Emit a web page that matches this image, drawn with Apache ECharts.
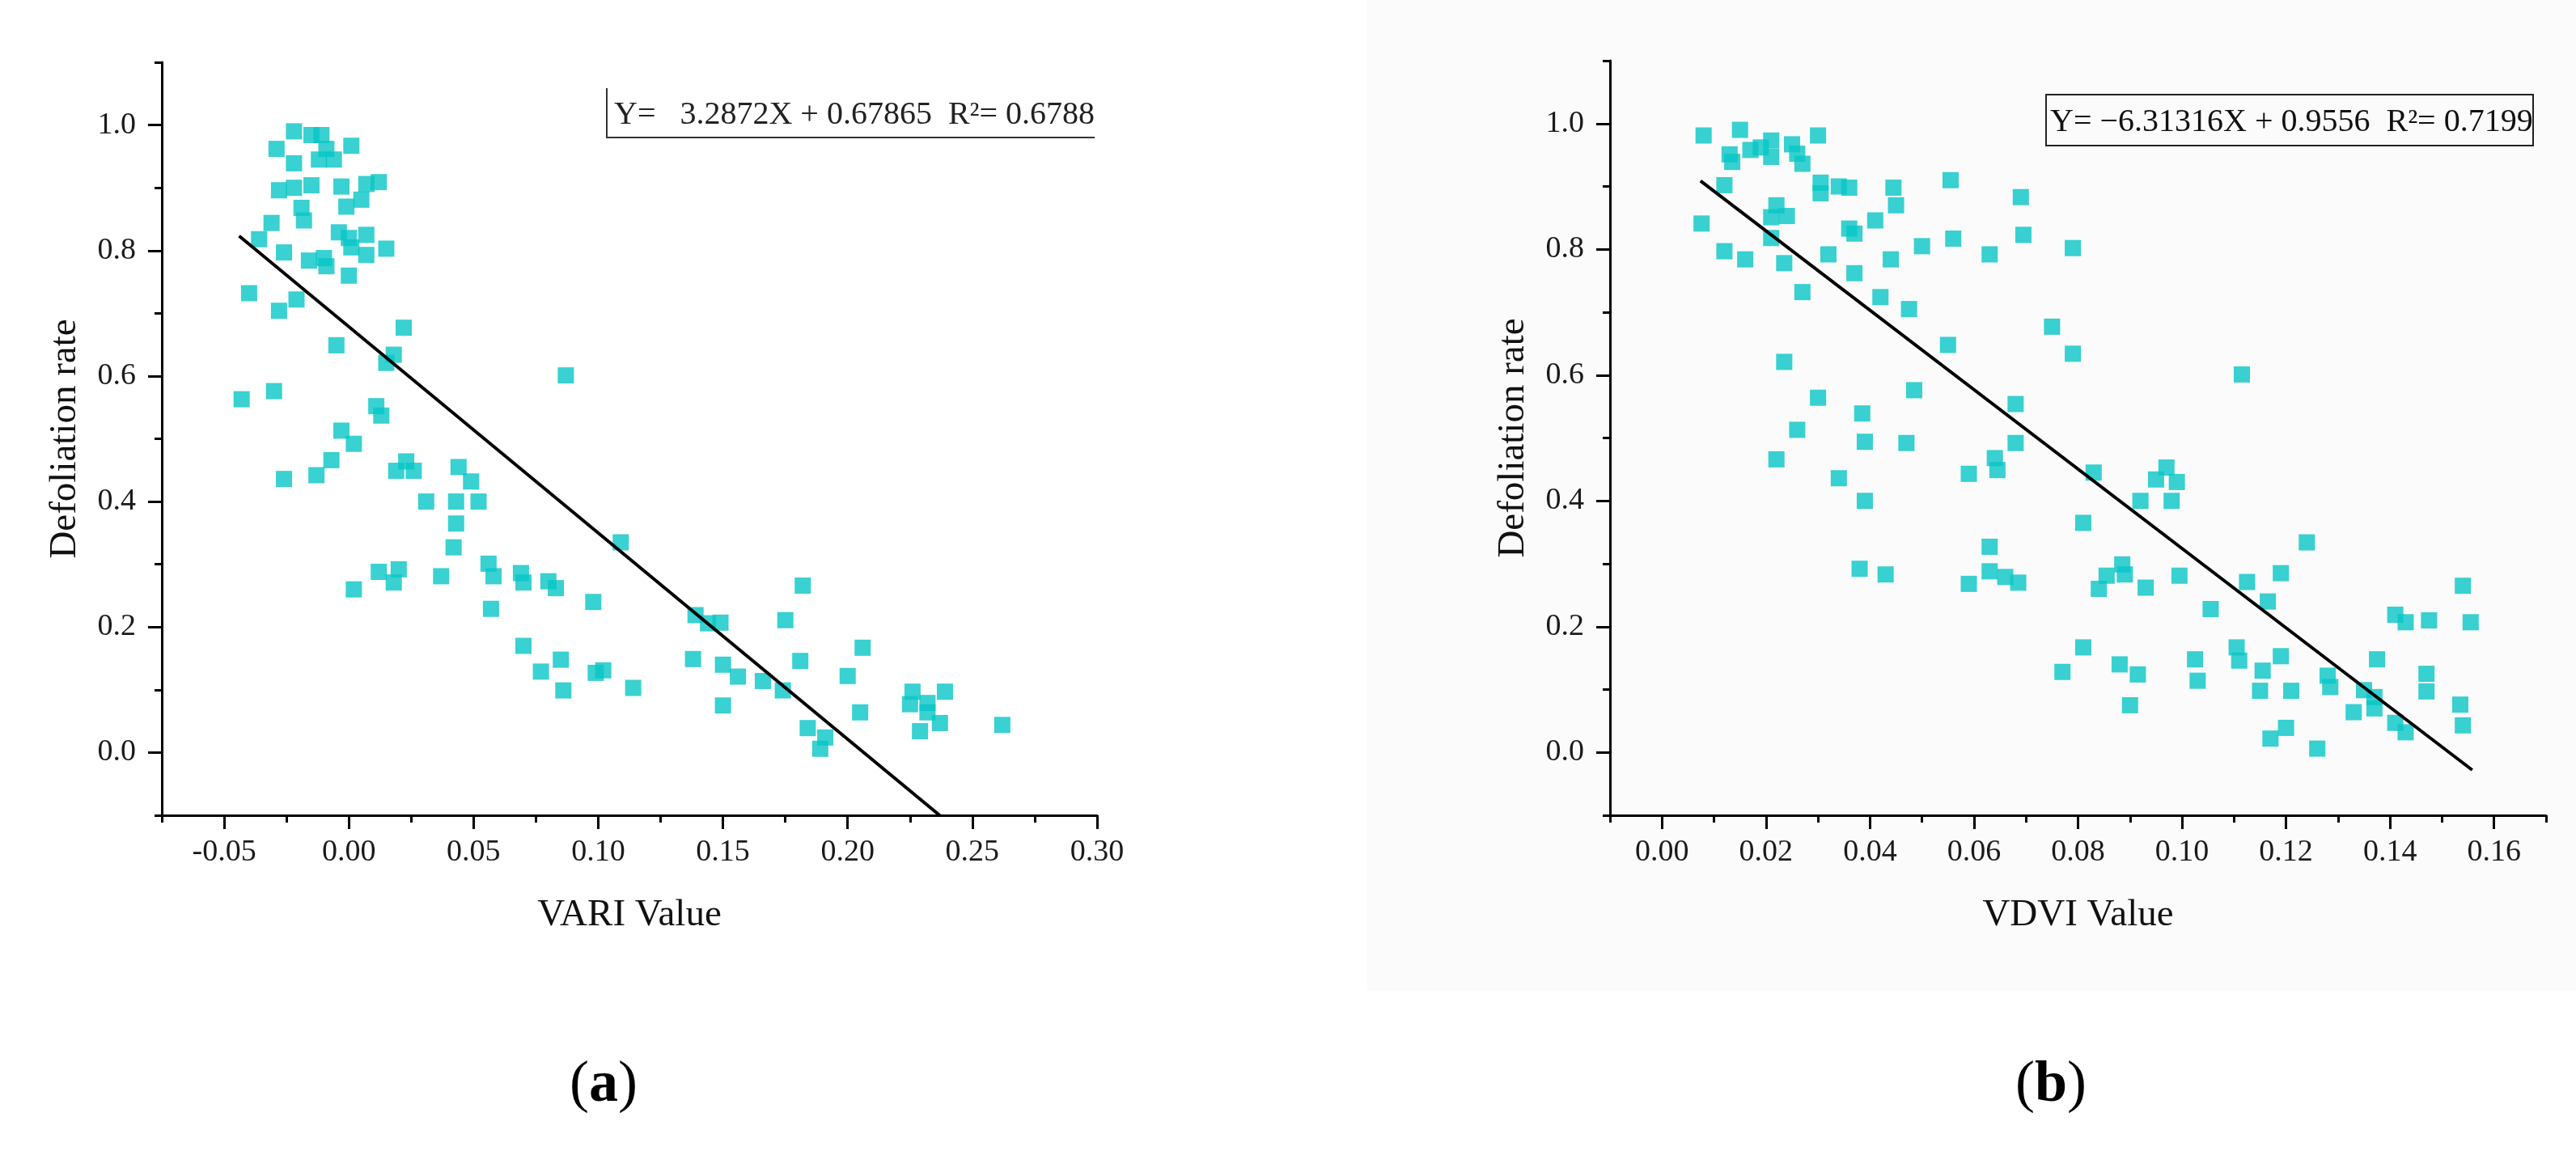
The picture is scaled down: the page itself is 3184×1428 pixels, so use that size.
<!DOCTYPE html>
<html>
<head>
<meta charset="utf-8">
<title>Defoliation rate vs VARI / VDVI</title>
<script src="https://cdn.jsdelivr.net/npm/echarts@6/dist/echarts.min.js"></script>
<style>
  html, body { margin: 0; padding: 0; background: #fff; }
  #wrap { position: relative; width: 3184px; height: 1428px; }
  #paper { position: absolute; left: 1690px; top: 0; width: 1494px; height: 1225px; background: #fbfbfb; }
  #chart { position: absolute; left: 0; top: 0; width: 3184px; height: 1428px; }
</style>
</head>
<body>
<div id="wrap">
  <div id="paper"></div>
  <div id="chart"></div>
</div>
<script>
// (a) VARI value vs defoliation rate
const variX = [
  -0.029, -0.022, -0.015, -0.011, -0.012, -0.006, 0.001, -0.022, -0.009,
  -0.028, -0.022, -0.015, -0.003, 0.007, 0.012, 0.005, -0.001, -0.019, -0.018,
  -0.031, -0.036, -0.004, 0.000, 0.007, 0.001, 0.007, 0.015, -0.026, -0.016, -0.010, -0.009, 0.000,
  -0.040, -0.028, -0.021, 0.022, -0.005, 0.018, 0.015, 0.087, -0.043, -0.030, 0.011, 0.013, -0.003, 0.002,
  -0.007, -0.013, -0.026, 0.023, 0.026, 0.019, 0.044, 0.049, 0.031, 0.043, 0.052, 0.043, 0.042, 0.109,
  0.002, 0.012, 0.020, 0.018, 0.037, 0.056, 0.058, 0.069, 0.070, 0.080, 0.083, 0.057, 0.098,
  0.070, 0.085, 0.077, 0.086, 0.099, 0.102, 0.114,
  0.182, 0.139, 0.144, 0.149, 0.175, 0.206, 0.138, 0.150, 0.156, 0.166, 0.174, 0.181, 0.200,
  0.150, 0.205, 0.184, 0.191, 0.189, 0.226, 0.239, 0.225, 0.232, 0.232, 0.237, 0.229, 0.262
]
const variY = [
  0.962, 0.990, 0.984, 0.984, 0.945, 0.945, 0.967, 0.939, 0.962,
  0.896, 0.900, 0.904, 0.902, 0.906, 0.909, 0.881, 0.870, 0.868, 0.848,
  0.844, 0.818, 0.829, 0.820, 0.825, 0.805, 0.793, 0.803, 0.797, 0.784, 0.788, 0.775, 0.760,
  0.732, 0.704, 0.722, 0.677, 0.649, 0.634, 0.621, 0.601, 0.563, 0.576, 0.552, 0.537, 0.513, 0.492,
  0.466, 0.442, 0.436, 0.464, 0.449, 0.449, 0.455, 0.432, 0.400, 0.400, 0.400, 0.365, 0.327, 0.335,
  0.260, 0.288, 0.292, 0.271, 0.281, 0.301, 0.281, 0.286, 0.271, 0.273, 0.262, 0.229, 0.240,
  0.170, 0.148, 0.129, 0.099, 0.127, 0.131, 0.103,
  0.266, 0.219, 0.206, 0.207, 0.211, 0.167, 0.149, 0.140, 0.121, 0.114, 0.099, 0.146, 0.122,
  0.075, 0.064, 0.039, 0.024, 0.006, 0.097, 0.097, 0.077, 0.079, 0.064, 0.047, 0.034, 0.044
]

// (b) VDVI value vs defoliation rate
const vdviX = [
  0.008, 0.015, 0.013, 0.0135, 0.017, 0.019, 0.021, 0.021, 0.025, 0.026, 0.027, 0.030,
  0.012, 0.0305, 0.0305, 0.034, 0.036, 0.0445, 0.045, 0.022, 0.021, 0.024, 0.0076, 0.041,
  0.036, 0.037, 0.021, 0.012, 0.016, 0.0235, 0.032, 0.044, 0.050, 0.037, 0.027, 0.042, 0.0475,
  0.0235, 0.030, 0.0385, 0.0485, 0.026, 0.039, 0.047,
  0.022, 0.034, 0.039, 0.038, 0.043,
  0.0555, 0.069, 0.056, 0.063, 0.0695, 0.079, 0.075, 0.055, 0.079, 0.1115, 0.068, 0.068,
  0.064, 0.0645, 0.059, 0.083, 0.097, 0.095, 0.099, 0.092, 0.098, 0.081, 0.124, 0.063,
  0.063, 0.066, 0.0685, 0.059, 0.0885, 0.0855, 0.084, 0.089,
  0.093, 0.0995, 0.1125, 0.119, 0.1165, 0.1055, 0.154, 0.141, 0.143, 0.1475, 0.1555,
  0.081, 0.077, 0.088, 0.0915, 0.090, 0.1025, 0.103, 0.1105, 0.111, 0.119, 0.1155, 0.115, 0.121,
  0.128, 0.1285, 0.1375, 0.135, 0.137, 0.137, 0.133, 0.147, 0.147, 0.1535, 0.154, 0.141, 0.143,
  0.120, 0.117, 0.126
]
const vdviY = [
  0.981, 0.990, 0.951, 0.939, 0.958, 0.962, 0.973, 0.947, 0.967, 0.952, 0.936, 0.981,
  0.902, 0.906, 0.889, 0.900, 0.898, 0.898, 0.870, 0.870, 0.851, 0.853, 0.841, 0.846,
  0.833, 0.825, 0.818, 0.797, 0.784, 0.778, 0.792, 0.784, 0.805, 0.762, 0.732, 0.724, 0.705,
  0.621, 0.564, 0.539, 0.576, 0.513, 0.494, 0.492,
  0.466, 0.436, 0.400, 0.292, 0.283,
  0.910, 0.883, 0.817, 0.792, 0.823, 0.802, 0.677, 0.648, 0.634, 0.601, 0.554, 0.492,
  0.468, 0.449, 0.443, 0.445, 0.453, 0.434, 0.430, 0.400, 0.400, 0.365, 0.334, 0.327,
  0.288, 0.279, 0.270, 0.268, 0.299, 0.281, 0.260, 0.283,
  0.262, 0.281, 0.271, 0.285, 0.240, 0.228, 0.265, 0.219, 0.207, 0.210, 0.207,
  0.167, 0.128, 0.140, 0.124, 0.075, 0.148, 0.114, 0.167, 0.146, 0.153, 0.130, 0.098, 0.098,
  0.122, 0.104, 0.148, 0.099, 0.088, 0.070, 0.064, 0.125, 0.097, 0.076, 0.043, 0.047, 0.032,
  0.039, 0.022, 0.006
]

// linear fits as printed in the boxes: [VARI, VDVI]
const fitSlope = [-3.2872, -6.31316]
const fitIntercept = [0.67865, 0.9556]
const fitFrom = [-0.044, 0.0074]
const fitTo = [0.262, 0.1558]
const fitText = [
  'Y=   3.2872X + 0.67865  R\u00b2= 0.6788',
  'Y= \u22126.31316X + 0.9556  R\u00b2= 0.7199'
]

const yMajor = [0, 0.2, 0.4, 0.6, 0.8, 1.0]
const variMajor = [-0.05, 0, 0.05, 0.1, 0.15, 0.2, 0.25, 0.3]
const vdviMajor = [0, 0.02, 0.04, 0.06, 0.08, 0.1, 0.12, 0.14, 0.16]

const FONT = "'Liberation Serif', 'Times New Roman', serif"
const MARK = '#08c6c6'

const zip = (xs, ys) => xs.map((x, i) => [x, ys[i]])
const fitLine = i => [fitFrom[i], fitTo[i]].map(x => [x, fitSlope[i] * x + fitIntercept[i]])

const lineStyle = { color: '#000', width: 3 }

function majorX(grid, min, max, ticks, digits, name) {
  return {
    type: 'value', gridIndex: grid, position: 'bottom', offset: 0,
    min, max,
    name, nameLocation: 'middle', nameGap: 100,
    nameTextStyle: { fontFamily: FONT, fontSize: 47, color: '#111' },
    axisLine: { show: true, onZero: false, lineStyle },
    axisTick: { show: true, inside: false, length: 17, customValues: ticks, lineStyle },
    axisLabel: {
      customValues: ticks, margin: 27, fontFamily: FONT, fontSize: 38, color: '#1a1a1a',
      formatter: v => Number(v).toFixed(digits)
    },
    splitLine: { show: false }
  }
}

function minorX(grid, min, max, step) {
  return {
    type: 'value', gridIndex: grid, position: 'bottom', offset: 0,
    min, max, interval: step,
    axisLine: { show: false, onZero: false },
    axisTick: { show: true, inside: false, length: 9, lineStyle },
    axisLabel: { show: false },
    splitLine: { show: false }
  }
}

function majorY(grid) {
  return {
    type: 'value', gridIndex: grid, position: 'left', offset: 0,
    min: -0.1, max: 1.1,
    name: 'Defoliation rate', nameLocation: 'middle', nameGap: 96,
    nameTextStyle: { fontFamily: FONT, fontSize: 47, color: '#111' },
    axisLine: { show: true, onZero: false, lineStyle },
    axisTick: { show: true, inside: false, length: 17, customValues: yMajor, lineStyle },
    axisLabel: {
      customValues: yMajor, margin: 32, fontFamily: FONT, fontSize: 38, color: '#1a1a1a',
      formatter: v => Number(v).toFixed(1)
    },
    splitLine: { show: false }
  }
}

function minorY(grid) {
  return {
    type: 'value', gridIndex: grid, position: 'left', offset: 0,
    min: -0.1, max: 1.1, interval: 0.1,
    axisLine: { show: false, onZero: false },
    axisTick: { show: true, inside: false, length: 9, lineStyle },
    axisLabel: { show: false },
    splitLine: { show: false }
  }
}

const chart = echarts.init(document.getElementById('chart'), null, { renderer: 'canvas' })

chart.setOption({
  backgroundColor: 'transparent',
  animation: false,
  grid: [
    { left: 200, right: 1828, top: 77, bottom: 420 },
    { left: 1990, right: 37, top: 75, bottom: 420 }
  ],
  xAxis: [
    majorX(0, -0.075, 0.3, variMajor, 2, 'VARI Value'),
    minorX(0, -0.075, 0.3, 0.025),
    majorX(1, -0.01, 0.17, vdviMajor, 2, 'VDVI Value'),
    minorX(1, -0.01, 0.17, 0.01)
  ],
  yAxis: [majorY(0), minorY(0), majorY(1), minorY(1)],
  series: [
    {
      type: 'scatter', xAxisIndex: 0, yAxisIndex: 0,
      symbol: 'rect', symbolSize: 20,
      itemStyle: { color: MARK },
      data: zip(variX, variY), z: 2
    },
    {
      type: 'line', xAxisIndex: 0, yAxisIndex: 0,
      data: fitLine(0), symbol: 'none', clip: true,
      lineStyle: { color: '#000', width: 4 }, z: 5
    },
    {
      type: 'scatter', xAxisIndex: 2, yAxisIndex: 2,
      symbol: 'rect', symbolSize: 20,
      itemStyle: { color: MARK },
      data: zip(vdviX, vdviY), z: 2
    },
    {
      type: 'line', xAxisIndex: 2, yAxisIndex: 2,
      data: fitLine(1), symbol: 'none', clip: true,
      lineStyle: { color: '#000', width: 4 }, z: 5
    }
  ],
  graphic: [
    // equation box (a): only left and bottom edges are drawn in the source
    {
      type: 'polyline', silent: true,
      shape: { points: [[750, 109], [750, 170], [1353, 170]] },
      style: { stroke: '#333', lineWidth: 2, fill: null }
    },
    {
      type: 'text', silent: true,
      style: {
        x: 759, y: 142, text: fitText[0], font: '40px ' + FONT, fill: '#222',
        align: 'left', verticalAlign: 'middle', textAlign: 'left', textVerticalAlign: 'middle'
      }
    },
    // equation box (b)
    {
      type: 'rect', silent: true,
      shape: { x: 2529, y: 117, width: 602, height: 63 },
      style: { stroke: '#222', lineWidth: 2, fill: 'rgba(0,0,0,0)' }
    },
    {
      type: 'text', silent: true,
      style: {
        x: 2534, y: 151, text: fitText[1], font: '40px ' + FONT, fill: '#111',
        align: 'left', verticalAlign: 'middle', textAlign: 'left', textVerticalAlign: 'middle'
      }
    },
    // panel captions
    {
      type: 'text', silent: true,
      style: {
        x: 746, y: 1342, text: '{p|(}{b|a}{p|)}', fill: '#000',
        align: 'center', verticalAlign: 'middle', textAlign: 'center', textVerticalAlign: 'middle',
        rich: {
          p: { fontFamily: FONT, fontSize: 72, fill: '#000' },
          b: { fontFamily: FONT, fontSize: 72, fontWeight: 'bold', fill: '#000' }
        }
      }
    },
    {
      type: 'text', silent: true,
      style: {
        x: 2535, y: 1342, text: '{p|(}{b|b}{p|)}', fill: '#000',
        align: 'center', verticalAlign: 'middle', textAlign: 'center', textVerticalAlign: 'middle',
        rich: {
          p: { fontFamily: FONT, fontSize: 72, fill: '#000' },
          b: { fontFamily: FONT, fontSize: 72, fontWeight: 'bold', fill: '#000' }
        }
      }
    }
  ]
})

window.addEventListener('resize', () => chart.resize())
</script>
</body>
</html>
